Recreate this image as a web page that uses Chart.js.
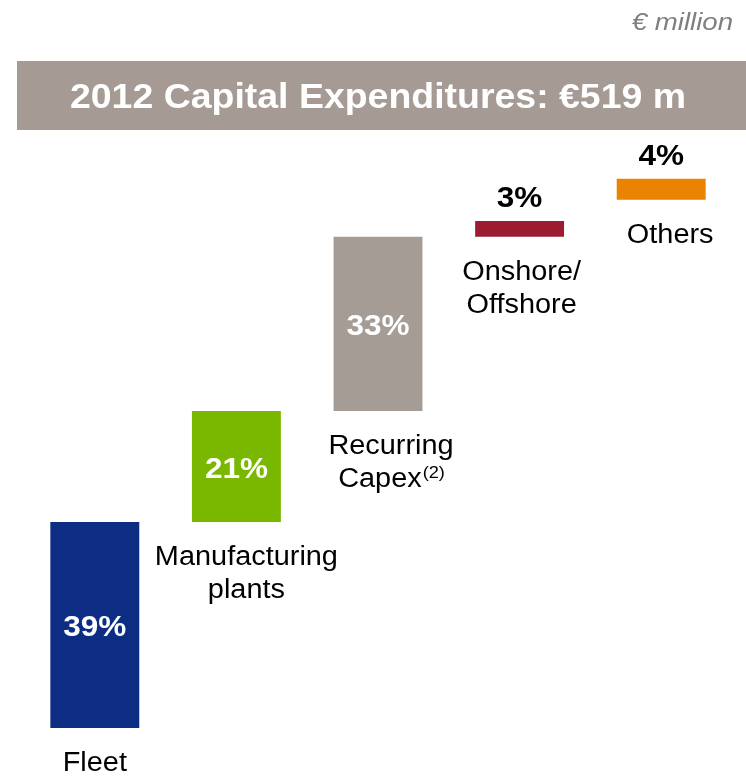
<!DOCTYPE html>
<html>
<head>
<meta charset="utf-8">
<script src="https://cdn.jsdelivr.net/npm/chart.js@4/dist/chart.umd.min.js"></script>
<style>
  html, body { margin: 0; padding: 0; background: #fff; }
  #wrap { position: relative; width: 746px; height: 776px; }
</style>
</head>
<body>
<div id="wrap"><canvas id="chart"></canvas></div>
<script>
// ── Data ─────────────────────────────────────────────
const categories = [['Fleet'], ['Manufacturing', 'plants'], ['Recurring', 'Capex'], ['Onshore/', 'Offshore'], ['Others']];
const footnotes  = ['', '', '(2)', '', ''];
const shares     = [39, 21, 33, 3, 4];          // % of total capex
const starts     = [0, 39, 60, 93, 100];        // where each step begins
const barColors  = ['#0C2D83', '#7AB800', '#A59D95', '#9B1C31', '#E98300'];
const insideLbl  = [true, true, true, false, false];

// small nudges of the category text boxes, as in the slide
const labelShiftX = [0, 10, 13, 2, 9];

const TITLE = '2012 Capital Expenditures: \u20ac519 m';
const UNIT  = '\u20ac million';
const FONT  = '"Liberation Sans", Arial, sans-serif';

// ── Text helpers ─────────────────────────────────────
function stretchText(ctx, txt, x, y, sx) {
    ctx.save();
    ctx.translate(x, y);
    ctx.scale(sx, 1);
    ctx.fillText(txt, 0, 0);
    ctx.restore();
}

const decorPlugin = {
    id: 'decor',
    beforeDraw(chart) {
        const ctx = chart.ctx;
        ctx.save();
        ctx.textBaseline = 'alphabetic';
        // unit note
        ctx.fillStyle = '#7F7F7F';
        ctx.font = 'italic 24px ' + FONT;
        ctx.textAlign = 'right';
        stretchText(ctx, UNIT, 733, 30, 1.15);
        // title banner
        ctx.fillStyle = '#A59B94';
        ctx.fillRect(17, 61, 729, 69);
        ctx.fillStyle = '#FFFFFF';
        ctx.font = 'bold 35px ' + FONT;
        ctx.textAlign = 'center';
        stretchText(ctx, TITLE, 378, 108, 1.07);
        ctx.restore();
    },
    afterDatasetsDraw(chart) {
        const ctx = chart.ctx;
        const meta = chart.getDatasetMeta(0);
        const SX = 1.07;
        ctx.save();
        ctx.textAlign = 'center';
        ctx.textBaseline = 'alphabetic';
        meta.data.forEach((bar, i) => {
            const top = Math.min(bar.y, bar.base);
            const bottom = Math.max(bar.y, bar.base);
            // value label
            ctx.font = 'bold 30px ' + FONT;
            if (insideLbl[i]) {
                ctx.fillStyle = '#FFFFFF';
                stretchText(ctx, shares[i] + '%', bar.x, (top + bottom) / 2 + 11, 1.05);
            } else {
                ctx.fillStyle = '#000000';
                stretchText(ctx, shares[i] + '%', bar.x, top - 14, 1.05);
            }
            // category label
            ctx.fillStyle = '#000000';
            const cx = bar.x + labelShiftX[i];
            categories[i].forEach((line, j) => {
                const y = bottom + 43 + j * 33;
                ctx.font = '27px ' + FONT;
                if (footnotes[i] && j === categories[i].length - 1) {
                    const w1 = ctx.measureText(line).width * SX;
                    ctx.font = '17px ' + FONT;
                    const w2 = ctx.measureText(footnotes[i]).width * SX;
                    const x0 = cx - (w1 + w2) / 2;
                    ctx.textAlign = 'left';
                    ctx.font = '27px ' + FONT;
                    stretchText(ctx, line, x0, y, SX);
                    ctx.font = '17px ' + FONT;
                    stretchText(ctx, footnotes[i], x0 + w1 + 1, y - 9, SX);
                    ctx.textAlign = 'center';
                } else {
                    stretchText(ctx, line, cx, y, SX);
                }
            });
        });
        ctx.restore();
    }
};

// ── Chart ────────────────────────────────────────────
new Chart(document.getElementById('chart'), {
    type: 'bar',
    data: {
        labels: categories.map(c => c.join(' ')),
        datasets: [{
            data: shares.map((v, i) => [starts[i], starts[i] + v]),
            backgroundColor: barColors,
            borderWidth: 0,
            categoryPercentage: 1,
            barPercentage: 0.628,
        }],
    },
    options: {
        responsive: true,
        maintainAspectRatio: false,
        animation: false,
        layout: { padding: { left: 24, right: 14, top: 147, bottom: 48 } },
        plugins: { legend: { display: false }, tooltip: { enabled: false } },
        scales: {
            x: { display: false },
            y: { display: false, min: 0, max: 110 },
        },
    },
    plugins: [decorPlugin],
});
</script>
</body>
</html>
